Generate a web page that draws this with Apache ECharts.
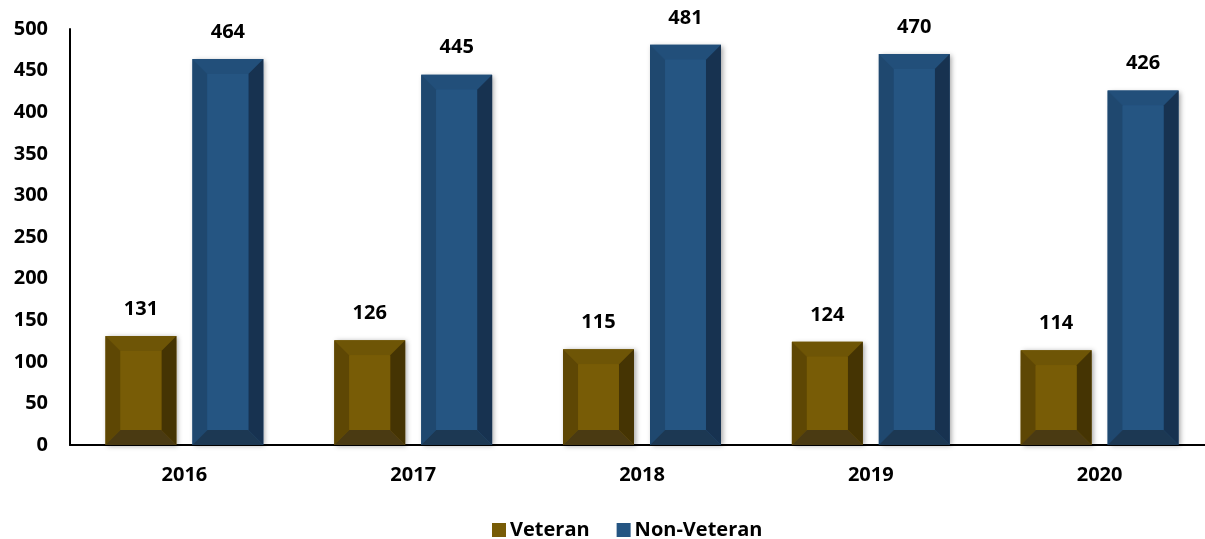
<!DOCTYPE html>
<html>
<head>
<meta charset="utf-8">
<script src="https://cdn.jsdelivr.net/npm/echarts@6/dist/echarts.min.js"></script>
<style>
  html, body { margin: 0; padding: 0; background: #fff; }
  #chart { width: 1205px; height: 539px; }
</style>
</head>
<body>
<div id="chart"></div>
<script>
const years = ['2016', '2017', '2018', '2019', '2020'];
const veteran = [131, 126, 115, 124, 114];
const nonVeteran = [464, 445, 481, 470, 426];
const yTicks = { min: 0, max: 500, interval: 50 };

// Bevel shades per series: face, top, left, right, bottom
const shades = [
  { face: '#785c06', top: '#6e5506', left: '#5e4704', right: '#453403', bottom: '#4a3a12' },
  { face: '#255582', top: '#224f7a', left: '#1f486f', right: '#173250', bottom: '#1c3853' }
];

const FONT = '"Open Sans", "Liberation Sans", sans-serif';

function bevelBar(params, api) {
  const cat = api.value(0);
  const val = api.value(1);
  const base = api.coord([cat, 0]);
  const top = api.coord([cat, val]);
  const band = api.size([1, 0])[0];
  const w = band * 0.31;
  const gap = band * 0.07;
  const x0 = params.seriesIndex === 0 ? base[0] - gap / 2 - w : base[0] + gap / 2;
  const x1 = x0 + w;
  const y0 = top[1];
  const y1 = base[1];
  const b = Math.min(15, (y1 - y0) / 2, w / 2);
  const s = shades[params.seriesIndex];
  const poly = (pts, fill) => ({ type: 'polygon', shape: { points: pts }, style: { fill: fill } });
  return {
    type: 'group',
    children: [
      { type: 'rect', shape: { x: x0, y: y0, width: w, height: y1 - y0 },
        style: { fill: s.face, shadowBlur: 5, shadowOffsetX: 2, shadowOffsetY: 1, shadowColor: 'rgba(0,0,0,0.35)' } },
      poly([[x0, y0], [x1, y0], [x1 - b, y0 + b], [x0 + b, y0 + b]], s.top),
      poly([[x0, y0], [x0 + b, y0 + b], [x0 + b, y1 - b], [x0, y1]], s.left),
      poly([[x1, y0], [x1, y1], [x1 - b, y1 - b], [x1 - b, y0 + b]], s.right),
      poly([[x0, y1], [x0 + b, y1 - b], [x1 - b, y1 - b], [x1, y1]], s.bottom),
      { type: 'rect', shape: { x: x0 + b, y: y0 + b, width: w - 2 * b, height: y1 - y0 - 2 * b }, style: { fill: s.face } },
      { type: 'text', style: { text: String(val), x: (x0 + x1) / 2, y: y0 - 27, align: 'center', verticalAlign: 'middle',
          fill: '#000', font: 'bold 20px ' + FONT } }
    ]
  };
}

const chart = echarts.init(document.getElementById('chart'));
chart.setOption({
  animation: false,
  grid: { left: 70, top: 29, width: 1144, bottom: 94, containLabel: false, outerBoundsMode: 'none' },
  legend: {
    bottom: -6, left: 487, itemGap: 27, itemWidth: 14, itemHeight: 14, icon: 'rect',
    textStyle: { fontFamily: FONT, fontWeight: 'bold', fontSize: 20, color: '#000', padding: [0, 0, 0, -1] },
    data: ['Veteran', 'Non-Veteran']
  },
  xAxis: {
    type: 'category', data: years,
    axisLine: { lineStyle: { color: '#000', width: 2 } },
    axisTick: { show: false },
    axisLabel: { color: '#000', fontFamily: FONT, fontWeight: 'bold', fontSize: 20, margin: 20 }
  },
  yAxis: {
    type: 'value', min: yTicks.min, max: yTicks.max, interval: yTicks.interval,
    axisLine: { show: true, lineStyle: { color: '#000', width: 2 } },
    axisTick: { show: false },
    splitLine: { show: false },
    axisLabel: { color: '#000', fontFamily: FONT, fontWeight: 'bold', fontSize: 20, margin: 22 }
  },
  series: [
    { name: 'Veteran', type: 'custom', renderItem: bevelBar, itemStyle: { color: shades[0].face },
      encode: { x: 0, y: 1 }, data: veteran.map((v, i) => [i, v]) },
    { name: 'Non-Veteran', type: 'custom', renderItem: bevelBar, itemStyle: { color: shades[1].face },
      encode: { x: 0, y: 1 }, data: nonVeteran.map((v, i) => [i, v]) }
  ]
});
</script>
</body>
</html>
